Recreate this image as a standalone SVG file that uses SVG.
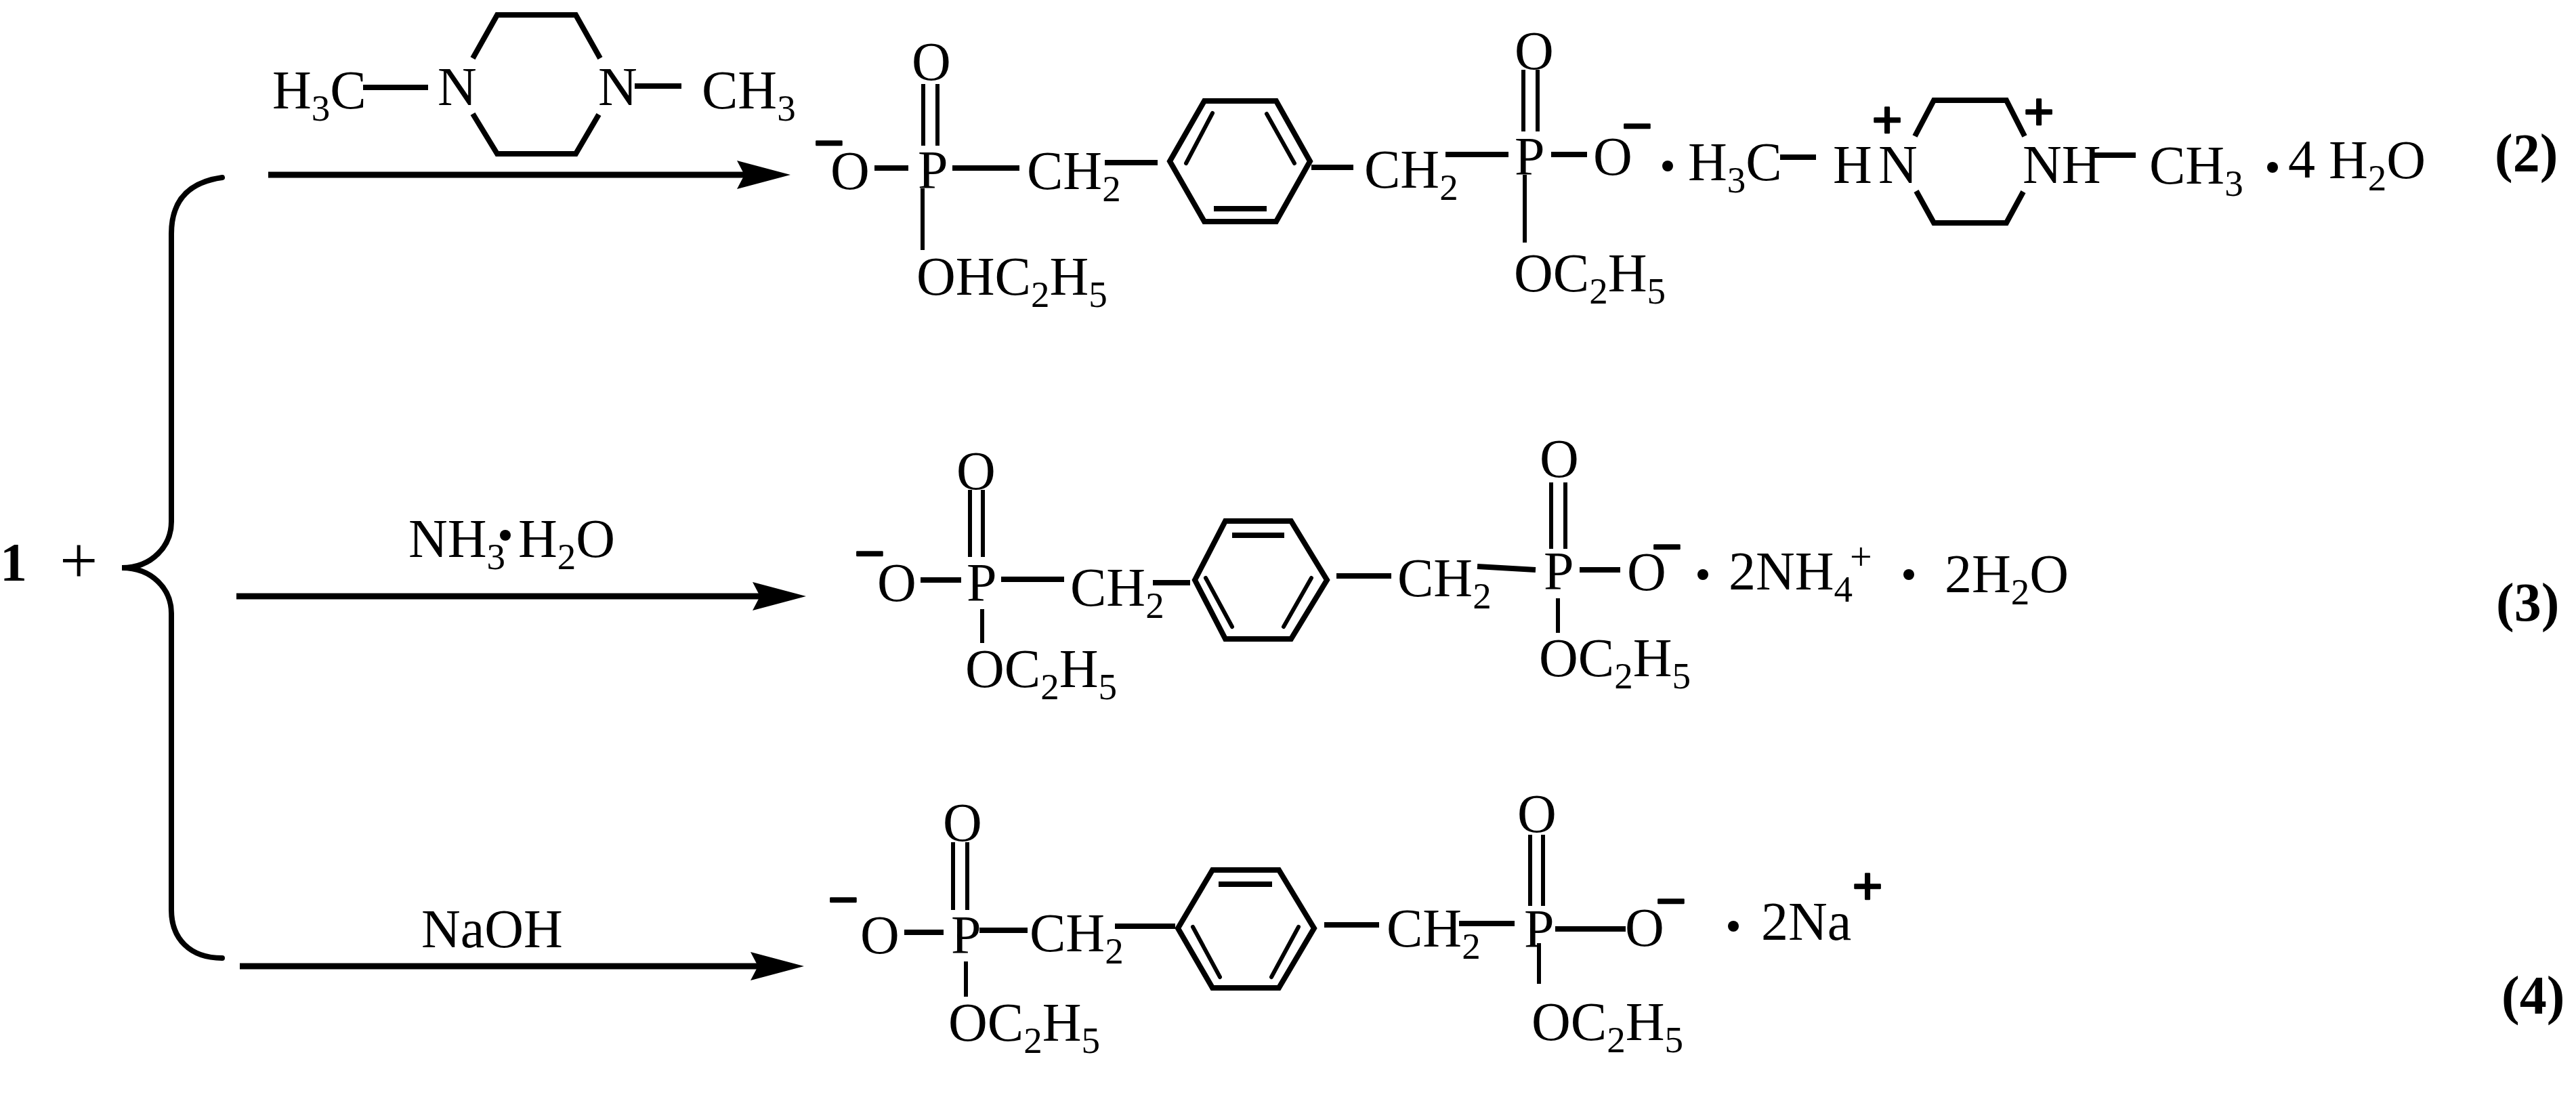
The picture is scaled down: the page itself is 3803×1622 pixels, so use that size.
<svg xmlns="http://www.w3.org/2000/svg" width="3803" height="1622" viewBox="0 0 3803 1622">
<style>
text{font-family:"Liberation Serif","Times New Roman",serif;font-size:80px;fill:#000;white-space:pre}
.s{font-size:55px}
.b{font-weight:bold}
.c{font-weight:bold;text-anchor:middle;stroke:#000;stroke-width:2.5px;stroke-linejoin:round}
.p{font-size:58px}
.big{font-size:100px}
line,polyline,polygon.r,path.br{stroke:#000;fill:none}
.a{stroke-width:9}
.h{stroke-width:8}
.v{stroke-width:6}
.i{stroke-width:6;stroke-linecap:round}
.r{stroke-width:8;stroke-linejoin:miter}
.br{stroke-width:8;stroke-linecap:round}
</style>
<defs>
<marker id="arrow" markerUnits="userSpaceOnUse" markerWidth="79" markerHeight="42" refX="11" refY="21" orient="auto" viewBox="0 0 79 42"><path d="M0,0L79,21L0,42L11,21Z" fill="#000"/></marker>
</defs>
<rect width="3803" height="1622" fill="#fff"/>
<g id="connectors">
<path class="br" d="M328,262C285,268 253,290 253,345L253,770C253,805 225,838 180,838C225,838 253,870 253,905L253,1343C253,1385 280,1414 328,1414"/>
<line class="a" x1="396" y1="258" x2="1099" y2="258" marker-end="url(#arrow)"/>
<line class="a" x1="349" y1="880" x2="1122" y2="880" marker-end="url(#arrow)"/>
<line class="a" x1="354" y1="1426" x2="1119" y2="1426" marker-end="url(#arrow)"/>
</g>
<g id="reactant">
<text class="b" x="0" y="857">1</text>
<text class="big" x="88" y="861">+</text>
</g>
<g id="reagent-piperazine">
<text x="402" y="160">H<tspan class="s" dy="18">3</tspan><tspan dy="-18">C</tspan></text>
<line class="h" x1="536" y1="129" x2="632" y2="129"/>
<text x="646" y="155">N</text>
<polyline class="r" points="698,86 734,22 850,22 886,86"/>
<polyline class="r" points="698,168 734,227 850,227 884,169"/>
<text x="883" y="155">N</text>
<line class="h" x1="937" y1="127" x2="1006" y2="127"/>
<text x="1036" y="160">CH<tspan class="s" dy="18">3</tspan></text>
</g>
<g id="reagent-ammonia">
<text x="603" y="822">NH<tspan class="s" dy="18">3</tspan></text>
<circle cx="746" cy="790" r="8"/>
<text x="765" y="822">H<tspan class="s" dy="18">2</tspan><tspan dy="-18">O</tspan></text>
</g>
<g id="reagent-naoh">
<text x="622" y="1398">NaOH</text>
</g>
<g id="product-2">
<text class="c" x="1224" y="238">−</text>
<text x="1226" y="279">O</text>
<line class="h" x1="1291" y1="248" x2="1341" y2="248"/>
<text x="1355" y="278">P</text>
<line class="h" x1="1406" y1="248" x2="1505" y2="248"/>
<text x="1516" y="279">CH<tspan class="s" dy="18">2</tspan></text>
<line class="h" x1="1631" y1="240" x2="1709" y2="240"/>
<polygon class="r" points="1727,238 1778,149 1884,149 1934,238 1884,327 1778,327"/>
<line class="i" x1="1790" y1="167" x2="1751" y2="241"/>
<line class="i" x1="1870" y1="168" x2="1911" y2="241"/>
<line class="h" x1="1792" y1="308" x2="1870" y2="308"/>
<line class="h" x1="1936" y1="247" x2="1998" y2="247"/>
<text x="2014" y="277">CH<tspan class="s" dy="18">2</tspan></text>
<line class="h" x1="2134" y1="228" x2="2227" y2="228"/>
<text x="2236" y="258">P</text>
<line class="h" x1="2290" y1="228" x2="2343" y2="228"/>
<text x="2352" y="258">O</text>
<text class="c" x="2417" y="213">−</text>
<circle cx="2462" cy="245" r="8"/>
<text x="1346" y="118">O</text>
<line class="v" x1="1363" y1="124" x2="1363" y2="215"/>
<line class="v" x1="1384" y1="124" x2="1384" y2="215"/>
<line class="v" x1="1362" y1="278" x2="1362" y2="369"/>
<text x="1353" y="435">OHC<tspan class="s" dy="18">2</tspan><tspan dy="-18">H</tspan><tspan class="s" dy="18">5</tspan></text>
<text x="2236" y="102">O</text>
<line class="v" x1="2249" y1="103" x2="2249" y2="194"/>
<line class="v" x1="2270" y1="103" x2="2270" y2="194"/>
<line class="v" x1="2251" y1="258" x2="2251" y2="358"/>
<text x="2235" y="430">OC<tspan class="s" dy="18">2</tspan><tspan dy="-18">H</tspan><tspan class="s" dy="18">5</tspan></text>
<text x="2492" y="266">H<tspan class="s" dy="18">3</tspan><tspan dy="-18">C</tspan></text>
<line class="h" x1="2628" y1="232" x2="2681" y2="232"/>
<text x="2706" y="270">H</text>
<text x="2773" y="270">N</text>
<text class="c" x="2786" y="204">+</text>
<polyline class="r" points="2827,201 2855,148 2962,148 2989,201"/>
<polyline class="r" points="2829,282 2855,329 2962,329 2987,283"/>
<text class="c" x="3010" y="192">+</text>
<text x="2986" y="270">NH</text>
<line class="h" x1="3092" y1="229" x2="3153" y2="229"/>
<text x="3173" y="271">CH<tspan class="s" dy="18">3</tspan></text>
<circle cx="3355" cy="247" r="8"/>
<text x="3378" y="262">4</text>
<text x="3438" y="263">H<tspan class="s" dy="18">2</tspan><tspan dy="-18">O</tspan></text>
<text class="b" x="3683" y="253">(2)</text>
</g>
<g id="product-3">
<text class="c" x="1284" y="844">−</text>
<text x="1295" y="887">O</text>
<line class="h" x1="1359" y1="856" x2="1419" y2="856"/>
<text x="1427" y="887">P</text>
<line class="h" x1="1478" y1="855" x2="1571" y2="855"/>
<text x="1580" y="894">CH<tspan class="s" dy="18">2</tspan></text>
<line class="h" x1="1702" y1="860" x2="1757" y2="860"/>
<polygon class="r" points="1764,856 1809,769 1906,769 1959,856 1906,943 1809,943"/>
<line class="h" x1="1819" y1="790" x2="1896" y2="790"/>
<line class="i" x1="1780" y1="853" x2="1819" y2="925"/>
<line class="i" x1="1936" y1="853" x2="1895" y2="925"/>
<line class="h" x1="1973" y1="850" x2="2054" y2="850"/>
<text x="2063" y="880">CH<tspan class="s" dy="18">2</tspan></text>
<line class="h" x1="2181" y1="836" x2="2267" y2="841"/>
<text x="2279" y="870">P</text>
<line class="h" x1="2332" y1="841" x2="2392" y2="841"/>
<text x="2402" y="871">O</text>
<text class="c" x="2461" y="834">−</text>
<text x="1412" y="722">O</text>
<line class="v" x1="1432" y1="723" x2="1432" y2="822"/>
<line class="v" x1="1451" y1="723" x2="1451" y2="822"/>
<line class="v" x1="1450" y1="899" x2="1450" y2="949"/>
<text x="1425" y="1014">OC<tspan class="s" dy="18">2</tspan><tspan dy="-18">H</tspan><tspan class="s" dy="18">5</tspan></text>
<text x="2273" y="704">O</text>
<line class="v" x1="2290" y1="712" x2="2290" y2="810"/>
<line class="v" x1="2311" y1="712" x2="2311" y2="810"/>
<line class="v" x1="2300" y1="883" x2="2300" y2="934"/>
<text x="2272" y="998">OC<tspan class="s" dy="18">2</tspan><tspan dy="-18">H</tspan><tspan class="s" dy="18">5</tspan></text>
<circle cx="2514" cy="848" r="8"/>
<text x="2552" y="870">2NH<tspan class="s" dy="18">4</tspan></text>
<text class="p" x="2731" y="841">+</text>
<circle cx="2818" cy="848" r="8"/>
<text x="2871" y="874">2H<tspan class="s" dy="18">2</tspan><tspan dy="-18">O</tspan></text>
<text class="b" x="3685" y="916">(3)</text>
</g>
<g id="product-4">
<text class="c" x="1245" y="1355">−</text>
<text x="1270" y="1407">O</text>
<line class="h" x1="1335" y1="1376" x2="1393" y2="1376"/>
<text x="1404" y="1407">P</text>
<line class="h" x1="1446" y1="1373" x2="1517" y2="1373"/>
<text x="1520" y="1404">CH<tspan class="s" dy="18">2</tspan></text>
<line class="h" x1="1646" y1="1367" x2="1735" y2="1367"/>
<polygon class="r" points="1739,1370 1790,1284 1888,1284 1940,1370 1888,1458 1790,1458"/>
<line class="h" x1="1799" y1="1305" x2="1878" y2="1305"/>
<line class="i" x1="1761" y1="1368" x2="1801" y2="1442"/>
<line class="i" x1="1917" y1="1368" x2="1877" y2="1442"/>
<line class="h" x1="1955" y1="1365" x2="2036" y2="1365"/>
<text x="2047" y="1397">CH<tspan class="s" dy="18">2</tspan></text>
<line class="h" x1="2154" y1="1363" x2="2236" y2="1363"/>
<text x="2250" y="1398">P</text>
<line class="h" x1="2296" y1="1371" x2="2400" y2="1371"/>
<text x="2399" y="1396">O</text>
<text class="c" x="2467" y="1357">−</text>
<text x="1392" y="1241">O</text>
<line class="v" x1="1407" y1="1243" x2="1407" y2="1343"/>
<line class="v" x1="1428" y1="1243" x2="1428" y2="1343"/>
<line class="v" x1="1426" y1="1419" x2="1426" y2="1471"/>
<text x="1400" y="1536">OC<tspan class="s" dy="18">2</tspan><tspan dy="-18">H</tspan><tspan class="s" dy="18">5</tspan></text>
<text x="2240" y="1228">O</text>
<line class="v" x1="2259" y1="1232" x2="2259" y2="1337"/>
<line class="v" x1="2278" y1="1232" x2="2278" y2="1337"/>
<line class="v" x1="2272" y1="1392" x2="2272" y2="1452"/>
<text x="2261" y="1535">OC<tspan class="s" dy="18">2</tspan><tspan dy="-18">H</tspan><tspan class="s" dy="18">5</tspan></text>
<circle cx="2559" cy="1367" r="8"/>
<text x="2600" y="1387">2Na</text>
<text class="c" x="2757" y="1335">+</text>
<text class="b" x="3693" y="1496">(4)</text>
</g>
</svg>
